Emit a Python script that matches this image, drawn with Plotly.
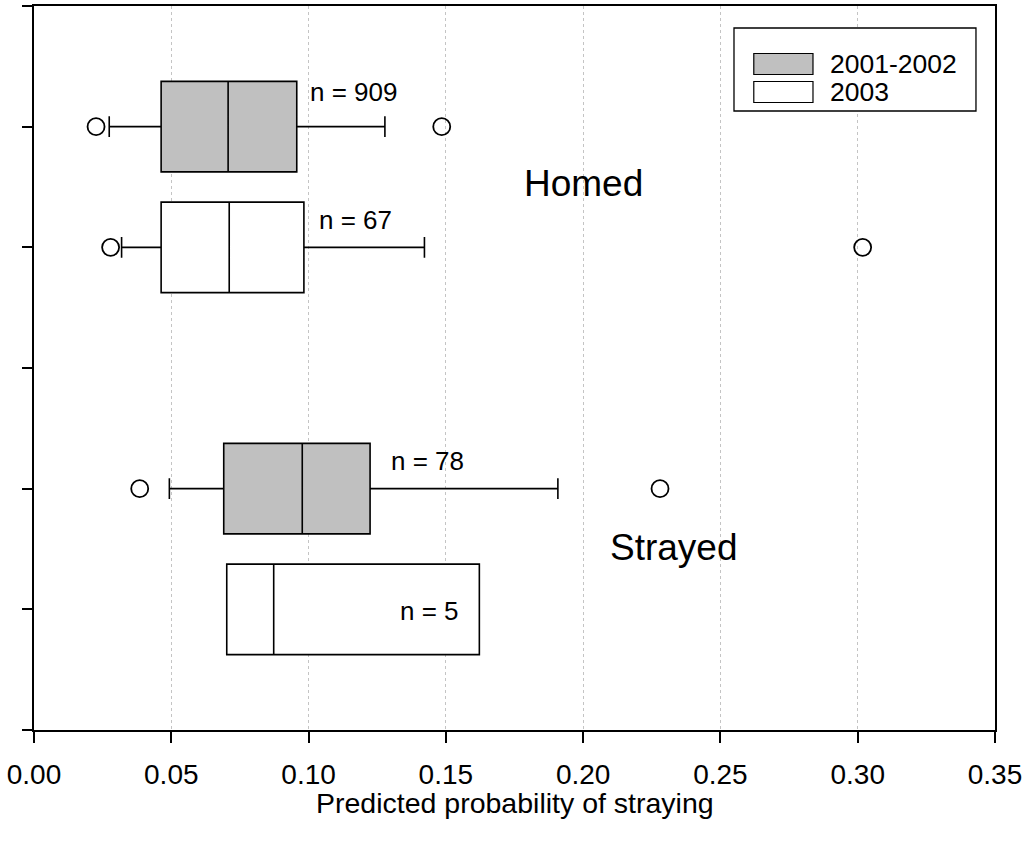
import plotly.graph_objects as go

# ---- data ----
groups = ["2001-2002", "2003"]
# positions on the y axis: Homed (5: 2001-2002, 4: 2003), Strayed (2: 2001-2002, 1: 2003)
pos_0102 = [5, 2]
q1_0102 = [0.0463, 0.0691]
med_0102 = [0.0707, 0.0977]
q3_0102 = [0.0957, 0.1224]
lf_0102 = [0.0274, 0.0493]
uf_0102 = [0.1278, 0.1908]
out_x_0102 = [0.0226, 0.1485, 0.0385, 0.2280]
out_y_0102 = [5, 5, 2, 2]

pos_2003 = [4, 1]
q1_2003 = [0.0463, 0.0702]
med_2003 = [0.0711, 0.0873]
q3_2003 = [0.0983, 0.1622]
lf_2003 = [0.0319, 0.0702]
uf_2003 = [0.1422, 0.1622]
out_x_2003 = [0.0279, 0.3018]
out_y_2003 = [4, 4]

n_labels = ["n = 909", "n = 67", "n = 78", "n = 5"]
n_x = [0.0999, 0.1032, 0.1294, 0.1327]
n_y = [5.29, 4.23, 2.23, 0.99]

group_labels = ["Homed", "Strayed"]
group_x = [0.2002, 0.233]
group_y = [4.53, 1.51]

x_ticks = [0.00, 0.05, 0.10, 0.15, 0.20, 0.25, 0.30, 0.35]
x_title = "Predicted probability of straying"
fills = {"2001-2002": "#c0c0c0", "2003": "#ffffff"}

FONT = "Liberation Sans, Arial, sans-serif"

fig = go.Figure()
fig.add_trace(go.Box(
    name="2001-2002", orientation="h", y=pos_0102,
    q1=q1_0102, median=med_0102, q3=q3_0102,
    lowerfence=lf_0102, upperfence=uf_0102,
    width=0.75, whiskerwidth=0.23, fillcolor=fills["2001-2002"],
    line=dict(color="black", width=1.6), boxpoints=False, showlegend=False,
    hoverinfo="skip"))
fig.add_trace(go.Box(
    name="2003", orientation="h", y=pos_2003,
    q1=q1_2003, median=med_2003, q3=q3_2003,
    lowerfence=lf_2003, upperfence=uf_2003,
    width=0.75, whiskerwidth=0.23, fillcolor=fills["2003"],
    line=dict(color="black", width=1.6), boxpoints=False, showlegend=False,
    hoverinfo="skip"))
fig.add_trace(go.Scatter(
    x=out_x_0102 + out_x_2003, y=out_y_0102 + out_y_2003, mode="markers",
    marker=dict(symbol="circle-open", size=17, color="black", line=dict(width=1.8)),
    showlegend=False, hoverinfo="skip"))

for t, x, y in zip(n_labels, n_x, n_y):
    fig.add_annotation(x=x, y=y, text=t, showarrow=False, xanchor="left",
                       yanchor="middle", font=dict(size=26, color="black", family=FONT))
for t, x, y in zip(group_labels, group_x, group_y):
    fig.add_annotation(x=x, y=y, text=t, showarrow=False, xanchor="center",
                       yanchor="middle", font=dict(size=37, color="black", family=FONT))

# x-axis title
fig.add_annotation(xref="paper", yref="paper", x=0.5, y=-0.1008, text=x_title,
                   showarrow=False, xanchor="center", yanchor="middle",
                   font=dict(size=28.5, color="black", family=FONT))

# manual legend (paper coordinates)
fig.add_shape(type="rect", xref="paper", yref="paper", x0=0.7284, x1=0.9802,
              y0=0.855, y1=0.9696, line=dict(color="black", width=1.3), fillcolor="white", layer="above")
leg_y = [0.9199, 0.8812]
for g, yc in zip(groups, leg_y):
    fig.add_shape(type="rect", xref="paper", yref="paper", x0=0.749, x1=0.8106,
                  y0=yc - 0.0145, y1=yc + 0.0145, line=dict(color="black", width=1.2),
                  fillcolor=fills[g], layer="above")
    fig.add_annotation(xref="paper", yref="paper", x=0.8262, y=yc, text=g, showarrow=False,
                       xanchor="left", yanchor="middle",
                       font=dict(size=26.5, color="black", family=FONT))

fig.update_layout(
    width=1026, height=850,
    margin=dict(l=34, r=31, t=6, b=120, autoexpand=False),
    plot_bgcolor="white", paper_bgcolor="white",
    boxmode="overlay",
    font=dict(family=FONT, color="black", size=26),
)
fig.update_xaxes(
    range=[0, 0.35], tickvals=x_ticks, tickformat=".2f",
    showline=True, linecolor="black", linewidth=2, mirror=True,
    ticks="outside", ticklen=11, tickwidth=2, tickcolor="black",
    tickfont=dict(size=28, family=FONT), ticklabelstandoff=7,
    showgrid=True, gridcolor="#c4c4c4", griddash="dot", gridwidth=1,
    zeroline=False, automargin=False,
)
fig.update_yaxes(
    range=[0, 6], tickvals=[0, 1, 2, 3, 4, 5, 6], showticklabels=False,
    showline=True, linecolor="black", linewidth=2, mirror=True,
    ticks="outside", ticklen=10, tickwidth=2, tickcolor="black",
    showgrid=False, zeroline=False, automargin=False,
)

fig.write_html("out.html", config={"displayModeBar": False},
               post_script="document.body.style.margin='0';")
